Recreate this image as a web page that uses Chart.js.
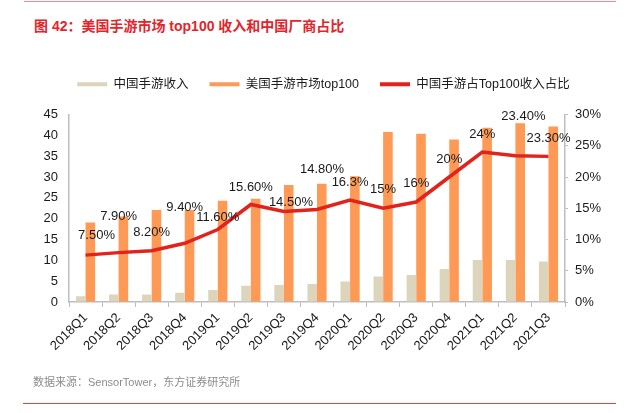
<!DOCTYPE html>
<html>
<head>
<meta charset="utf-8">
<script src="https://cdn.jsdelivr.net/npm/chart.js@4"></script>
<style>
  body { margin: 0; background: #fff; }
  #wrap { position: relative; width: 627px; height: 413px; overflow: hidden; font-family: "Liberation Sans", "Noto Sans CJK SC", sans-serif; }
  #topline { position: absolute; left: 24px; top: 1px; width: 592px; height: 1px; background: #f08a8a; }
  #title { position: absolute; left: 34px; top: 15px; font-size: 14px; font-weight: bold; color: #e3242b; white-space: nowrap; }
  #source { position: absolute; left: 33px; top: 373px; font-size: 11px; color: #8c8c8c; white-space: nowrap; }
  #bottomline { position: absolute; left: 23px; top: 403px; width: 593px; height: 1px; background: #e8403a; }
  canvas { position: absolute; left: 0; top: 0; }
</style>
</head>
<body>
<div id="wrap">
  <div id="topline"></div>
  <div id="title">图 42：美国手游市场 top100 收入和中国厂商占比</div>
  <canvas id="grafico" width="627" height="413"></canvas>
  <div id="source">数据来源：SensorTower，东方证券研究所</div>
  <div id="bottomline"></div>
</div>
<script>
const quarters = ['2018Q1', '2018Q2', '2018Q3', '2018Q4', '2019Q1', '2019Q2', '2019Q3', '2019Q4',
                  '2020Q1', '2020Q2', '2020Q3', '2020Q4', '2021Q1', '2021Q2', '2021Q3'];
const chinaRevenue = [1.4, 1.8, 1.8, 2.2, 2.9, 3.9, 4.1, 4.3, 4.9, 6.1, 6.5, 7.9, 10.1, 10.1, 9.7];
const usTop100 = [19.1, 20.5, 22.1, 22.1, 24.3, 24.8, 28.1, 28.4, 30.2, 40.8, 40.4, 39.0, 41.8, 42.9, 42.1];
const chinaShare = [7.5, 7.9, 8.2, 9.4, 11.6, 15.6, 14.5, 14.8, 16.3, 15, 16, 20, 24, 23.4, 23.3];
const shareLabels = ['7.50%', '7.90%', '8.20%', '9.40%', '11.60%', '15.60%', '14.50%', '14.80%',
                     '16.3%', '15%', '16%', '20%', '24%', '23.40%', '23.30%'];

const FONT = '"Liberation Sans", "Noto Sans CJK SC", sans-serif';

// label offsets, picked by eye
const labelDx = [11, 0, 0, 0, 0, 0, 7, 5, 0, 0, 0, 0, 0, 8, 0];
const labelDy = [-20, -36, -18, -36, -12, -17, -9, -40, -18, -19, -19, -18, -18, -39, -18];

const shareLabelPlugin = {
    id: 'shareLabels',
    afterDatasetsDraw(chart) {
        const meta = chart.getDatasetMeta(2);
        const ctx = chart.ctx;
        ctx.save();
        ctx.font = '13px ' + FONT;
        ctx.fillStyle = '#1a1a1a';
        ctx.textAlign = 'center';
        ctx.textBaseline = 'middle';
        meta.data.forEach((pt, i) => {
            ctx.fillText(shareLabels[i], pt.x + labelDx[i], pt.y + labelDy[i]);
        });
        ctx.restore();
    }
};

const legendSpace = {
    id: 'legendSpace',
    beforeInit(chart) {
        const fit = chart.legend.fit;
        chart.legend.fit = function() {
            fit.bind(chart.legend)();
            this.height += 14;
        };
    }
};

const ctx = document.getElementById('grafico').getContext('2d');
new Chart(ctx, {
    type: 'bar',
    data: {
        labels: quarters,
        datasets: [{
            label: '中国手游收入',
            data: chinaRevenue,
            backgroundColor: '#ddd4bc',
            borderWidth: 0,
            barPercentage: 1,
            categoryPercentage: 0.58,
            yAxisID: 'y',
            order: 2
        }, {
            label: '美国手游市场top100',
            data: usTop100,
            backgroundColor: '#fe9a55',
            borderWidth: 0,
            barPercentage: 1,
            categoryPercentage: 0.58,
            yAxisID: 'y',
            order: 2
        }, {
            type: 'line',
            label: '中国手游占Top100收入占比',
            data: chinaShare,
            borderColor: '#e3221c',
            backgroundColor: '#e3221c',
            borderWidth: 3.5,
            pointRadius: 0,
            tension: 0,
            yAxisID: 'y1',
            order: 1
        }]
    },
    options: {
        responsive: false,
        animation: false,
        layout: { padding: { top: 57, left: 20, right: 0, bottom: 51 } },
        plugins: {
            legend: {
                position: 'top',
                labels: {
                    boxWidth: 30,
                    boxHeight: 4,
                    padding: 21,
                    color: '#1a1a1a',
                    font: { size: 12.5, family: FONT },
                    sort: (a, b) => a.datasetIndex - b.datasetIndex,
                    generateLabels(chart) {
                        const items = Chart.defaults.plugins.legend.labels.generateLabels(chart);
                        items.forEach(it => { it.lineWidth = 0; });
                        return items;
                    }
                }
            },
            tooltip: { enabled: false }
        },
        scales: {
            x: {
                grid: { drawOnChartArea: false, tickLength: 5, color: '#bdbdbd', offset: true },
                border: { color: '#bdbdbd', width: 1.5 },
                ticks: {
                    color: '#1a1a1a',
                    font: { size: 13, family: FONT },
                    minRotation: 45,
                    maxRotation: 45,
                    padding: 3
                },
                afterFit(scale) { scale.height = 60; }
            },
            y: {
                position: 'left',
                min: 0,
                max: 45,
                ticks: { stepSize: 5, color: '#1a1a1a', font: { size: 13, family: FONT }, padding: 11 },
                grid: { drawOnChartArea: false, drawTicks: false },
                border: { color: '#bdbdbd', width: 1.5 },
                afterFit(scale) { scale.width = 49; }
            },
            y1: {
                position: 'right',
                min: 0,
                max: 30,
                ticks: {
                    stepSize: 5,
                    color: '#1a1a1a',
                    font: { size: 13, family: FONT },
                    padding: 7,
                    callback: v => v + '%'
                },
                grid: { drawOnChartArea: false, tickLength: 3, color: '#bdbdbd' },
                border: { color: '#bdbdbd', width: 1.5 },
                afterFit(scale) { scale.width = 62; }
            }
        }
    },
    plugins: [shareLabelPlugin, legendSpace]
});
</script>
</body>
</html>
